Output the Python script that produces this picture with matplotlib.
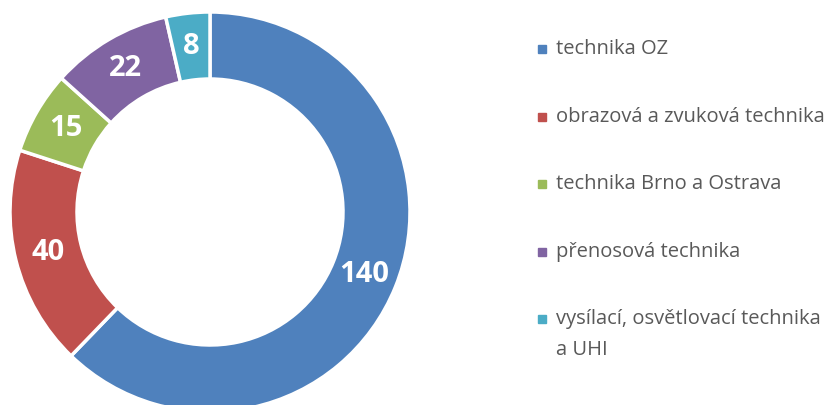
import numpy as np
import matplotlib.pyplot as plt
from matplotlib.patches import Rectangle

categories = ["technika OZ", "obrazová a zvuková technika", "technika Brno a Ostrava",
              "přenosová technika", "vysílací, osvětlovací technika\na UHI"]
values = [140, 40, 15, 22, 8]
colors = ["#4F81BD", "#C0504D", "#9BBB59", "#8064A2", "#4BACC6"]

W, H = 836, 405
fig = plt.figure(figsize=(W / 100, H / 100), dpi=100)

# donut: centre (210, 212) px, outer radius 200 px
cx, cy, R = 210, 212, 200
ax = fig.add_axes([(cx - R) / W, (H - cy - R) / H, 2 * R / W, 2 * R / H])
ring = 0.335
wedges, _ = ax.pie(values, colors=colors, startangle=90, counterclock=False, radius=1,
                   wedgeprops=dict(width=ring, edgecolor="white", linewidth=2.5))
ax.set_xlim(-1, 1)
ax.set_ylim(-1, 1)
ax.set_aspect("equal")
ax.axis("off")

for w, v in zip(wedges, values):
    ang = np.deg2rad((w.theta1 + w.theta2) / 2)
    r = 1 - ring / 2
    ax.text(r * np.cos(ang), r * np.sin(ang), str(v), ha="center", va="center",
            color="white", fontsize=21, fontweight="bold", family="Open Sans")

# legend, drawn by hand so the marker sits on the first line
y0, dy, line_h = 49, 67.5, 31
for i, (lab, col) in enumerate(zip(categories, colors)):
    y = y0 + i * dy
    fig.patches.append(Rectangle((538 / W, 1 - (y + 4) / H), 8 / W, 8 / H,
                                 transform=fig.transFigure, color=col, figure=fig))
    for j, part in enumerate(lab.split("\n")):
        fig.text(556 / W, 1 - (y + j * line_h) / H, part, ha="left", va="center",
                 color="#595959", fontsize=14.5, family="Open Sans")

fig.savefig("out.png", dpi=100)
